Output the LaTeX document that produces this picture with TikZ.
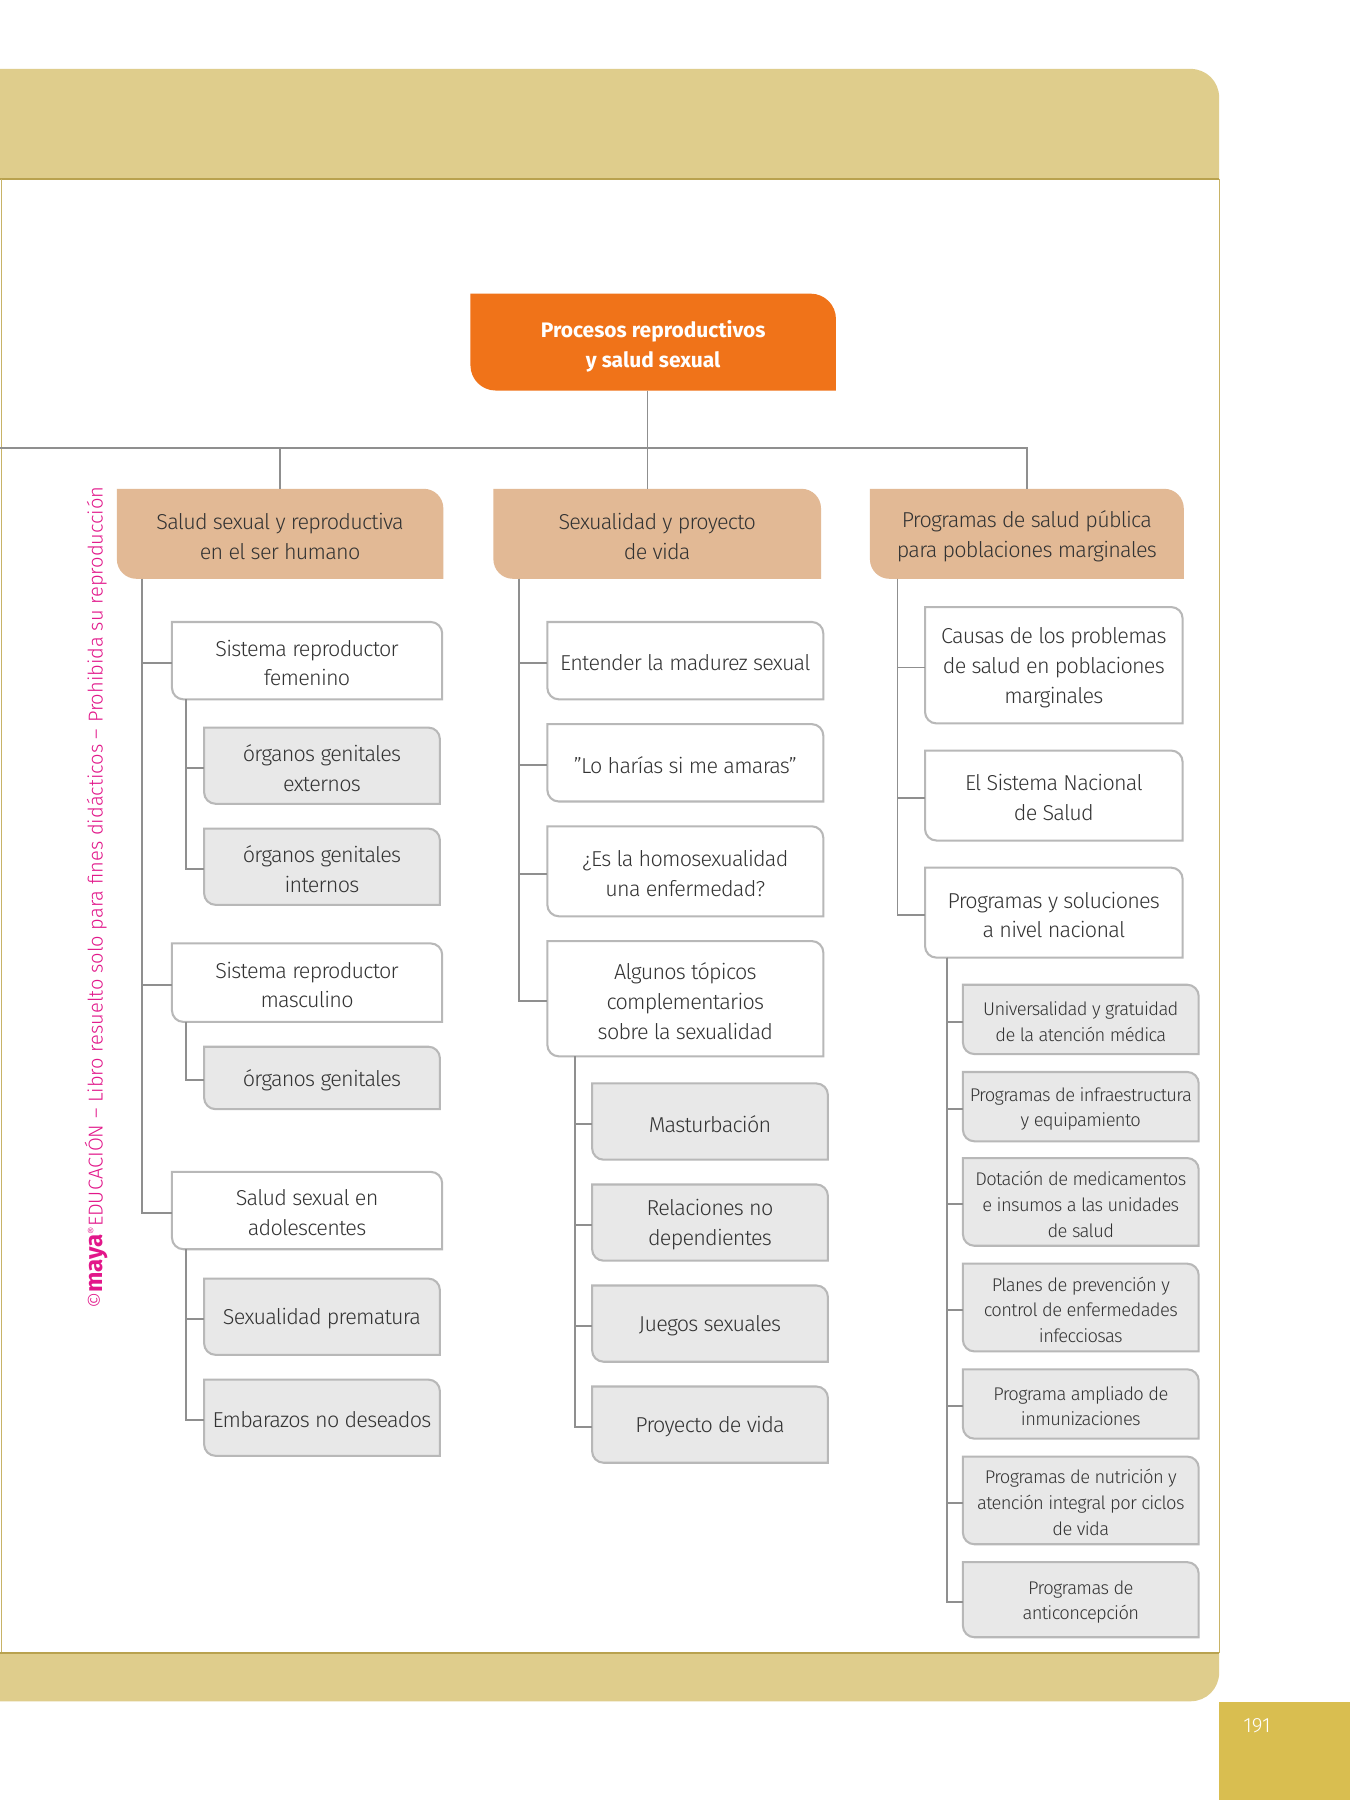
\documentclass[tikz,border=0pt]{standalone}
\usepackage{fontspec}
\IfFontExistsTF{Fira Sans Light}{%
  \setmainfont{Fira Sans Light}[LetterSpace=-3.5]%
  \newfontfamily\plainfont{Fira Sans Light}%
  \newfontfamily\strongfont{Fira Sans}%
}{%
  \setmainfont{PT Sans}[LetterSpace=-3.5]%
  \newfontfamily\plainfont{PT Sans}%
  \newfontfamily\strongfont{PT Sans}%
}
\pgfdeclarelayer{bg}
\pgfsetlayers{bg,main}
\definecolor{bandcol}{HTML}{DFCD8C}
\definecolor{bandline}{HTML}{B9A24F}
\definecolor{frameline}{HTML}{C8B366}
\definecolor{pagecol}{HTML}{D9BE50}
\definecolor{orangecol}{HTML}{F07319}
\definecolor{tancol}{HTML}{E2B995}
\definecolor{leafgray}{HTML}{E8E8E8}
\definecolor{boxline}{HTML}{B8B8B8}
\definecolor{connline}{HTML}{8F8F8F}
\definecolor{textgray}{HTML}{333333}
\definecolor{wmcol}{HTML}{E2178A}
\newcommand\mainsize{\fontsize{18.8}{26}\selectfont}
\newcommand\smallsize{\fontsize{16}{22.5}\selectfont}
% shape with rounded top-right and bottom-left corners
% #1 offset (pt, shape raised by it), #2 node, #3 radius (number), #4 style
\newcommand\cornerbox[4][2]{%
  \begin{pgfonlayer}{bg}
  \path[#4] ([yshift=#1pt]#2.north west) -- ([xshift=-#3pt, yshift=#1pt]#2.north east)
    .. controls ([xshift=-0.448*#3pt, yshift=#1pt]#2.north east)
       and ([yshift=-0.448*#3pt+#1pt]#2.north east)
    .. ([yshift=-#3pt+#1pt]#2.north east)
    -- ([yshift=#1pt]#2.south east) -- ([xshift=#3pt, yshift=#1pt]#2.south west)
    .. controls ([xshift=0.448*#3pt, yshift=#1pt]#2.south west)
       and ([yshift=0.448*#3pt+#1pt]#2.south west)
    .. ([yshift=#3pt+#1pt]#2.south west) -- cycle;
  \end{pgfonlayer}}
\tikzset{
  base/.style={inner sep=0pt, align=center, text=textgray, font=\mainsize, yshift=-2pt},
  rootbox/.style={inner sep=0pt, align=center, minimum width=318pt, minimum height=84pt, text=white,
     font=\strongfont\bfseries\fontsize{18.3}{26}\selectfont, yshift=-4pt},
  lonebox/.style={base, minimum width=#1, minimum height=78pt},
  whitebox/.style={base, minimum width=#1},
  leafbox/.style={base, minimum width=205pt},
  sleafbox/.style={base, minimum width=205pt, font=\smallsize},
  conn/.style={draw=connline, line width=1.6pt},
  fillorange/.style={fill=orangecol},
  filltan/.style={fill=tancol},
  fillwhite/.style={fill=white, draw=boxline, line width=1.8pt},
  fillgray/.style={fill=leafgray, draw=boxline, line width=1.8pt},
}
\begin{document}
\begin{tikzpicture}[x=1pt,y=-1pt]
\useasboundingbox (0,0) rectangle (1176,1568);
% page frame
\begin{pgfonlayer}{bg}
\fill[white] (0,0) rectangle (1176,1568);
\fill[bandcol] (0,60) -- (1037,60) .. controls (1051,60) and (1062,71) .. (1062,85)
  -- (1062,156) -- (0,156) -- cycle;
\draw[bandline, line width=1.6pt] (0,156) -- (1062,156);
\draw[frameline, line width=1pt] (1,156) -- (1,1440);
\draw[frameline, line width=1pt] (1062,156) -- (1062,1440);
\fill[bandcol] (0,1440) -- (1062,1440) -- (1062,1457) .. controls (1062,1471) and (1051,1482) .. (1037,1482)
  -- (0,1482) -- cycle;
\draw[bandline, line width=1.2pt] (0,1440) -- (1062,1440);
\fill[pagecol] (1062,1483) rectangle (1176,1568);
\end{pgfonlayer}
\node[text=white, font=\plainfont\fontsize{18}{20}\selectfont] (pagenum) at (1095,1503) {191};
% watermark
\node[rotate=90, text=wmcol, inner sep=0pt, font=\plainfont\fontsize{17.5}{20}\selectfont] (wm) at (84,782)
  {©{\strongfont\bfseries\fontsize{21}{20}\selectfont maya}\raisebox{0.6ex}{\fontsize{10}{10}\selectfont®}EDUCACIÓN – Libro resuelto solo para fines didácticos – Prohibida su reproducción};
% root
\node[rootbox] (root) at (569,298) {Procesos reproductivos\\y salud sexual};
\cornerbox[4]{root}{22}{fillorange}
% level 1
\node[lonebox=284pt] (L1A) at (244,465) {Salud sexual y reproductiva\\en el ser humano};
\node[lonebox=285pt] (L1B) at (572.5,465) {Sexualidad y proyecto\\de vida};
\node[lonebox=273pt] (L1C) at (894.5,465) {Programas de salud pública\\para poblaciones marginales};
\cornerbox{L1A}{17}{filltan}
\cornerbox{L1B}{17}{filltan}
\cornerbox{L1C}{17}{filltan}
% column A
\node[whitebox=235pt, minimum height=67pt] (A1) at (267.5,575.5) {Sistema reproductor\\femenino};
\node[leafbox, minimum height=66pt] (A1a) at (280.5,667) {órganos genitales\\externos};
\node[leafbox, minimum height=66pt] (A1b) at (280.5,755) {órganos genitales\\internos};
\node[whitebox=235pt, minimum height=68pt] (A2) at (267.5,856) {Sistema reproductor\\masculino};
\node[leafbox, minimum height=54pt] (A2a) at (280.5,939) {órganos genitales};
\node[whitebox=235pt, minimum height=67pt] (A3) at (267.5,1054.5) {Salud sexual en\\adolescentes};
\node[leafbox, minimum height=66pt] (A3a) at (280.5,1147) {Sexualidad prematura};
\node[leafbox, minimum height=66pt] (A3b) at (280.5,1235) {Embarazos no deseados};
\cornerbox{A1}{10}{fillwhite}
\cornerbox{A2}{10}{fillwhite}
\cornerbox{A3}{10}{fillwhite}
\cornerbox{A1a}{10}{fillgray}
\cornerbox{A1b}{10}{fillgray}
\cornerbox{A2a}{10}{fillgray}
\cornerbox{A3a}{10}{fillgray}
\cornerbox{A3b}{10}{fillgray}
% column B
\node[whitebox=240pt, minimum height=67pt] (B1) at (597,575.5) {Entender la madurez sexual};
\node[whitebox=240pt, minimum height=67pt] (B2) at (597,664.5) {”Lo harías si me amaras”};
\node[whitebox=240pt, minimum height=78pt] (B3) at (597,759) {¿Es la homosexualidad\\una enfermedad?};
\node[whitebox=240pt, minimum height=100pt] (B4) at (597,870) {Algunos tópicos\\complementarios\\sobre la sexualidad};
\node[leafbox, minimum height=66pt] (B4a) at (618.5,977) {Masturbación};
\node[leafbox, minimum height=66pt] (B4b) at (618.5,1065) {Relaciones no\\dependientes};
\node[leafbox, minimum height=66pt] (B4c) at (618.5,1153) {Juegos sexuales};
\node[leafbox, minimum height=66pt] (B4d) at (618.5,1241) {Proyecto de vida};
\cornerbox{B1}{10}{fillwhite}
\cornerbox{B2}{10}{fillwhite}
\cornerbox{B3}{10}{fillwhite}
\cornerbox{B4}{10}{fillwhite}
\cornerbox{B4a}{10}{fillgray}
\cornerbox{B4b}{10}{fillgray}
\cornerbox{B4c}{10}{fillgray}
\cornerbox{B4d}{10}{fillgray}
% column C
\node[whitebox=224pt, minimum height=101pt] (C1) at (918,579.5) {Causas de los problemas\\de salud en poblaciones\\marginales};
\node[whitebox=224pt, minimum height=78pt] (C2) at (918,693) {El Sistema Nacional\\de Salud};
\node[whitebox=224pt, minimum height=78pt] (C3) at (918,795) {Programas y soluciones\\a nivel nacional};
\node[sleafbox, minimum height=60pt] (C3a) at (941.5,888) {Universalidad y gratuidad\\de la atención médica};
\node[sleafbox, minimum height=60pt] (C3b) at (941.5,964) {Programas de infraestructura\\y equipamiento};
\node[sleafbox, minimum height=76pt] (C3c) at (941.5,1047) {Dotación de medicamentos\\e insumos a las unidades\\de salud};
\node[sleafbox, minimum height=76pt] (C3d) at (941.5,1139) {Planes de prevención y\\control de enfermedades\\infecciosas};
\node[sleafbox, minimum height=60pt] (C3e) at (941.5,1223) {Programa ampliado de\\inmunizaciones};
\node[sleafbox, minimum height=76pt] (C3f) at (941.5,1307) {Programas de nutrición y\\atención integral por ciclos\\de vida};
\node[sleafbox, minimum height=65pt] (C3g) at (941.5,1393.5) {Programas de\\anticoncepción};
\cornerbox{C1}{10}{fillwhite}
\cornerbox{C2}{10}{fillwhite}
\cornerbox{C3}{10}{fillwhite}
\foreach \n in {C3a,C3b,C3c,C3d,C3e,C3f,C3g}{\cornerbox{\n}{10}{fillgray}}
% connectors: top level
\coordinate (bus0) at (0,390);
\coordinate (rootfoot) at ([xshift=-5pt, yshift=4pt]root.south);
\draw[conn] (rootfoot) |- (bus0);
\draw[conn] (rootfoot) -- ([yshift=2pt]rootfoot |- L1B.north);
\draw[conn] (bus0) -| ([yshift=2pt]L1C.north);
\draw[conn] ([yshift=2pt]L1A.north) -- (L1A.north |- bus0);
% trunks
\coordinate (tA) at ([xshift=22pt, yshift=2pt]L1A.south west);
\coordinate (tB) at ([xshift=22pt, yshift=2pt]L1B.south west);
\coordinate (tC) at ([xshift=24pt, yshift=2pt]L1C.south west);
\foreach \n in {A1,A2,A3}{\draw[conn] (tA) |- (\n.west);}
\foreach \n in {B1,B2,B3,B4}{\draw[conn] (tB) |- (\n.west);}
\foreach \n in {C1,C2,C3}{\draw[conn] (tC) |- (\n.west);}
\coordinate (tA1) at ([xshift=12pt, yshift=2pt]A1.south west);
\coordinate (tA2) at ([xshift=12pt, yshift=2pt]A2.south west);
\coordinate (tA3) at ([xshift=12pt, yshift=2pt]A3.south west);
\coordinate (tB4) at ([xshift=24pt, yshift=2pt]B4.south west);
\coordinate (tC3) at ([xshift=19pt, yshift=2pt]C3.south west);
\foreach \n in {A1a,A1b}{\draw[conn] (tA1) |- (\n.west);}
\draw[conn] (tA2) |- (A2a.west);
\foreach \n in {A3a,A3b}{\draw[conn] (tA3) |- (\n.west);}
\foreach \n in {B4a,B4b,B4c,B4d}{\draw[conn] (tB4) |- (\n.west);}
\foreach \n in {C3a,C3b,C3c,C3d,C3e,C3f,C3g}{\draw[conn] (tC3) |- (\n.west);}
\end{tikzpicture}
\end{document}
